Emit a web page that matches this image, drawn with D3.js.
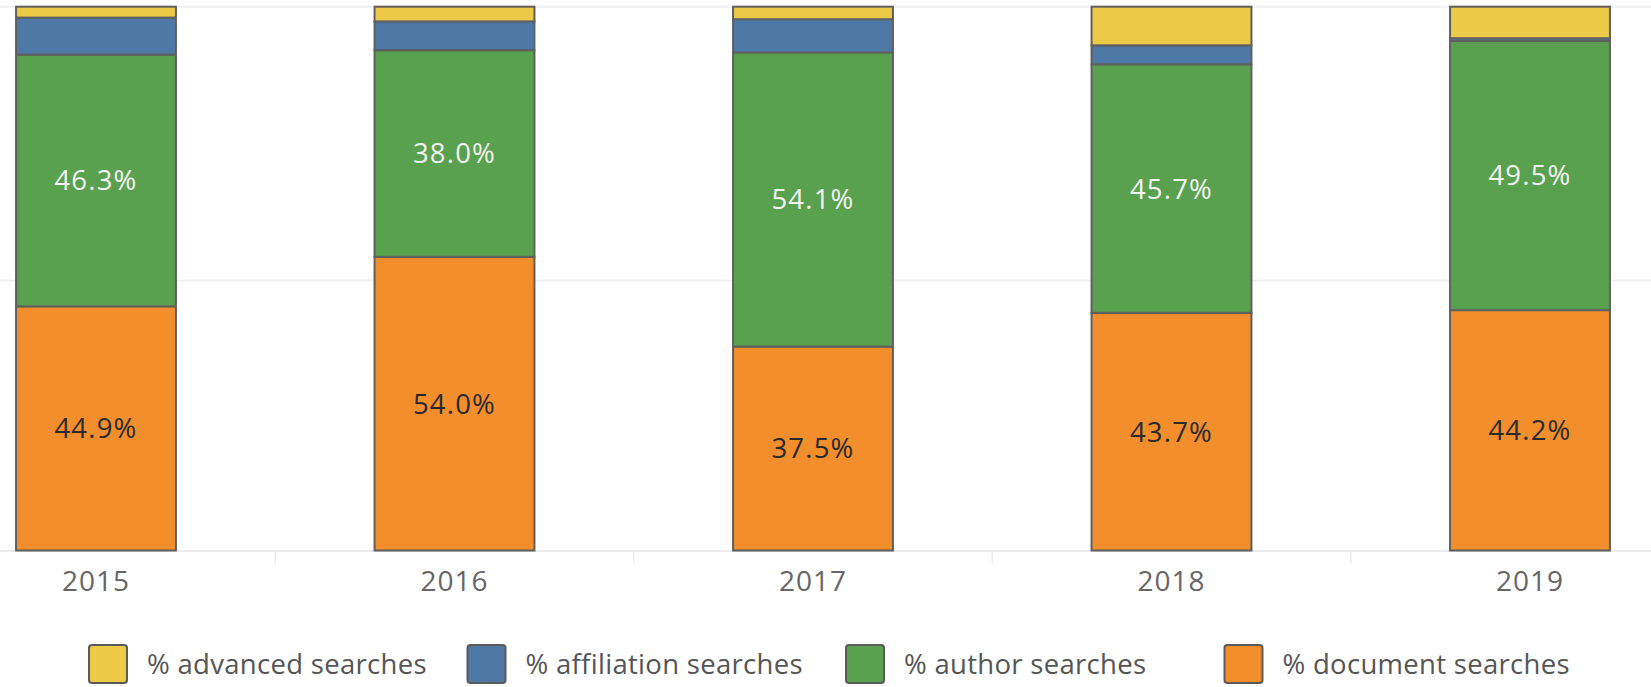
<!DOCTYPE html>
<html>
<head>
<meta charset="utf-8">
<script src="https://cdn.jsdelivr.net/npm/d3@7"></script>
<style>
  html, body { margin: 0; padding: 0; background: #ffffff; }
  svg { display: block; font-family: "Open Sans", "DejaVu Sans", sans-serif; }
</style>
</head>
<body>
<svg id="chart" width="1651" height="687"></svg>
<script>
// ---- data ----
const years = ["2015", "2016", "2017", "2018", "2019"];
const seriesNames = ["% document searches", "% author searches", "% affiliation searches", "% advanced searches"];
const documentSearches    = [0.449, 0.540, 0.375, 0.437, 0.442];
const authorSearches      = [0.463, 0.380, 0.541, 0.457, 0.495];
const affiliationSearches = [0.068, 0.053, 0.061, 0.035, 0.005];
const advancedSearches    = [0.020, 0.027, 0.023, 0.071, 0.058];
const legendOrder = ["% advanced searches", "% affiliation searches", "% author searches", "% document searches"];
const gridValues = [0.5, 1.0];

// ---- setup ----
const colors = {
  "% advanced searches": "#EDC948",
  "% affiliation searches": "#4E79A7",
  "% author searches": "#59A14F",
  "% document searches": "#F28E2B"
};
const labelColors = { "% author searches": "#f4f4f4", "% document searches": "#2a2a2a" };
const seriesValues = {
  "% document searches": documentSearches,
  "% author searches": authorSearches,
  "% affiliation searches": affiliationSearches,
  "% advanced searches": advancedSearches
};

const table = years.map((y, i) => {
  const row = { year: y };
  seriesNames.forEach(s => row[s] = seriesValues[s][i]);
  return row;
});

const svg = d3.select("#chart");
const W = 1651;
const step = 358.5;
const x = d3.scaleBand()
  .domain(years)
  .range([96 - step / 2, 96 - step / 2 + step * years.length])
  .paddingInner(0.554)
  .paddingOuter(0.277);
const y = d3.scaleLinear().domain([0, 1]).range([550.5, 6.7]);

// gridlines
svg.append("g").selectAll("line").data(gridValues).join("line")
  .attr("x1", 0).attr("x2", W)
  .attr("y1", d => y(d) + (d < 1 ? 2 : 0)).attr("y2", d => y(d) + (d < 1 ? 2 : 0))
  .attr("stroke", "#efefef").attr("stroke-width", 2);

// baseline and band dividers
svg.append("line").attr("x1", 0).attr("x2", W)
  .attr("y1", y(0) + 0.5).attr("y2", y(0) + 0.5)
  .attr("stroke", "#ebebeb").attr("stroke-width", 2);
const dividers = years.slice(1).map(yr => x(yr) - x.step() * x.paddingInner() / 2);
svg.append("g").selectAll("line").data(dividers).join("line")
  .attr("x1", d => d).attr("x2", d => d)
  .attr("y1", y(0)).attr("y2", y(0) + 13)
  .attr("stroke", "#ebebeb").attr("stroke-width", 1.5);

// stack
const stack = d3.stack().keys(seriesNames);
const stacked = stack(table);

const layers = svg.append("g").selectAll("g").data(stacked).join("g")
  .attr("fill", d => colors[d.key]);
layers.selectAll("rect").data(d => d.map(v => ({ key: d.key, v }))).join("rect")
  .attr("x", d => x(d.v.data.year))
  .attr("width", x.bandwidth())
  .attr("y", d => y(d.v[1]))
  .attr("height", d => y(d.v[0]) - y(d.v[1]))
  .attr("stroke", "#5f5f5f")
  .attr("stroke-width", 2);

// labels
const fmt = d3.format(".1%");
const labelled = stacked.filter(s => labelColors[s.key]);
svg.append("g").selectAll("g").data(labelled).join("g")
  .selectAll("text").data(d => d.map(v => ({ key: d.key, v }))).join("text")
  .attr("x", d => x(d.v.data.year) + x.bandwidth() / 2)
  .attr("y", d => (y(d.v[0]) + y(d.v[1])) / 2)
  .attr("dy", "0.36em")
  .attr("text-anchor", "middle")
  .attr("font-size", 27.5)
  .attr("letter-spacing", 1.2)
  .attr("fill", d => labelColors[d.key])
  .text(d => fmt(d.v.data[d.key]));

// x axis
const xAxis = d3.axisBottom(x).tickSize(0).tickPadding(0);
const gx = svg.append("g").attr("transform", `translate(0,${y(0)})`).call(xAxis);
gx.select(".domain").remove();
gx.selectAll("text")
  .attr("y", 30)
  .attr("dy", "0.36em")
  .attr("font-size", 28)
  .attr("letter-spacing", 1)
  .attr("font-family", "\"Open Sans\", sans-serif")
  .attr("fill", "#666666");

// legend
const legend = svg.append("g").selectAll("g").data(legendOrder).join("g")
  .attr("transform", (d, i) => `translate(${89 + i * 378.5}, 645)`);
legend.append("rect")
  .attr("width", 38).attr("height", 38)
  .attr("rx", 3)
  .attr("fill", d => colors[d])
  .attr("stroke", "#5a5a5a").attr("stroke-width", 2);
legend.append("text")
  .attr("x", 58).attr("y", 19).attr("dy", "0.36em")
  .attr("font-size", 27.5)
  .attr("letter-spacing", 0.3)
  .attr("fill", "#555555")
  .text(d => d);
</script>
</body>
</html>
